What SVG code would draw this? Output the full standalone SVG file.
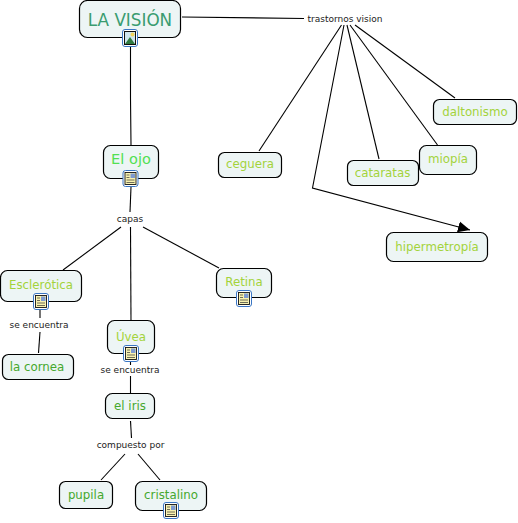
<svg xmlns="http://www.w3.org/2000/svg" width="518" height="523" viewBox="0 0 518 523">
<style>
text{font-family:"DejaVu Sans",Verdana,sans-serif;text-anchor:middle}
.n{fill:#edf5f5;stroke:#000;stroke-width:1.2}
.t{font-size:11.8px}
.l{font-size:9px;fill:#222}
.c{fill:none;stroke:#000;stroke-width:1.1}
.lime{fill:#a3d33b}
.grn{fill:#45a82d}
</style>
<defs>
<marker id="a" markerUnits="userSpaceOnUse" markerWidth="14" markerHeight="12" refX="12" refY="6" orient="auto"><path d="M0,0.500L12,6L0,11.500Z" fill="#000"/></marker>
<g id="doc"><rect x="0.500" y="0.500" width="15" height="16" rx="2.500" fill="#fff" stroke="#3a76c4"/><rect x="2.500" y="2.500" width="11" height="12" fill="#f8f2b0" stroke="#111" stroke-width="0.9"/><path d="M4,5h3M4,7.500h3M4,10h8M4,12.500h8" stroke="#333" stroke-width="0.7"/><rect x="8" y="3.500" width="4.500" height="4.500" fill="#7d9ad0"/></g>
</defs>
<g id="connectors">
<path class="c" d="M130.500,47V98L131,145"/>
<path class="c" d="M131,187L130,212"/>
<path class="c" d="M121,227L63,270"/>
<path class="c" d="M130.500,227L131,320"/>
<path class="c" d="M143,227L219,268"/>
<path class="c" d="M40,310V318"/>
<path class="c" d="M40,332L38.500,353"/>
<path class="c" d="M130.500,362V365"/>
<path class="c" d="M130.500,376V393"/>
<path class="c" d="M130.500,421L131.500,438"/>
<path class="c" d="M125,454L101,480"/>
<path class="c" d="M138,454L160,480"/>
<path class="c" d="M182,17L304,18.500"/>
<path class="c" d="M341.500,25L259,151"/>
<path class="c" d="M344,25L312.500,188L470,230" marker-end="url(#a)"/>
<path class="c" d="M347,25L379,159"/>
<path class="c" d="M350,25L437.500,145"/>
<path class="c" d="M355,25L455,98"/>
</g>
<g id="n1"><rect class="n" x="79.500" y="0.500" width="101" height="37" rx="8"/><text x="130" y="25.500" font-size="16.800" fill="#3a9c70">LA VISIÓN</text>
<rect x="122.500" y="29.500" width="15" height="17" rx="2.500" fill="#fff" stroke="#3a76c4"/><rect x="124.500" y="31.500" width="11" height="13" fill="#cfe6ee" stroke="#111"/><path d="M125,44L130,37L135,44Z" fill="#2f7a40"/><circle cx="132.500" cy="34.500" r="2" fill="#f2d45c"/></g>
<g id="n2"><rect class="n" x="103.500" y="145.500" width="55" height="33" rx="7"/><text x="131" y="164" font-size="14.600" fill="#52e052">El ojo</text><use href="#doc" x="122.500" y="170"/></g>
<g id="n3"><rect class="n" x="0.500" y="270.500" width="81" height="31" rx="7"/><text class="t lime" x="41" y="289">Esclerótica</text><use href="#doc" x="33" y="293"/></g>
<g id="n4"><rect class="n" x="107.500" y="320.500" width="47" height="33" rx="7"/><text class="t lime" x="131" y="341">Úvea</text><use href="#doc" x="123" y="345"/></g>
<g id="n5"><rect class="n" x="216.500" y="268.500" width="55" height="29" rx="7"/><text class="t lime" x="244" y="286">Retina</text><use href="#doc" x="236" y="290"/></g>
<g id="n6"><rect class="n" x="2.500" y="354.500" width="71" height="25" rx="6"/><text class="t grn" x="37" y="371">la cornea</text></g>
<g id="n7"><rect class="n" x="105.500" y="393.500" width="49" height="25" rx="7"/><text class="t grn" x="130" y="410">el iris</text></g>
<g id="n8"><rect class="n" x="59.500" y="481.500" width="53" height="27" rx="6"/><text class="t grn" x="86" y="498.500">pupila</text></g>
<g id="n9"><rect class="n" x="135.500" y="481.500" width="71" height="29" rx="7"/><text class="t grn" x="171" y="498.500">cristalino</text><use href="#doc" x="163" y="502"/></g>
<g id="n10"><rect class="n" x="218.500" y="152.500" width="63" height="25" rx="6"/><text class="t lime" x="250" y="168">ceguera</text></g>
<g id="n11"><rect class="n" x="347.500" y="160.500" width="71" height="25" rx="6"/><text class="t lime" x="382.500" y="177">cataratas</text></g>
<g id="n12"><rect class="n" x="419.500" y="145.500" width="57" height="29" rx="7"/><text class="t lime" x="448" y="163">miopía</text></g>
<g id="n13"><rect class="n" x="386.500" y="232.500" width="101" height="29" rx="7"/><text class="t lime" x="437" y="251">hipermetropía</text></g>
<g id="n14"><rect class="n" x="433.500" y="99.500" width="83" height="25" rx="6"/><text class="t lime" x="475" y="116">daltonismo</text></g>
<g id="labels">
<text class="l" x="345" y="21.500">trastornos vision</text>
<text class="l" x="130" y="222">capas</text>
<text class="l" x="39" y="328">se encuentra</text>
<text class="l" x="130" y="373">se encuentra</text>
<text class="l" x="130.500" y="448">compuesto por</text>
</g>
</svg>
